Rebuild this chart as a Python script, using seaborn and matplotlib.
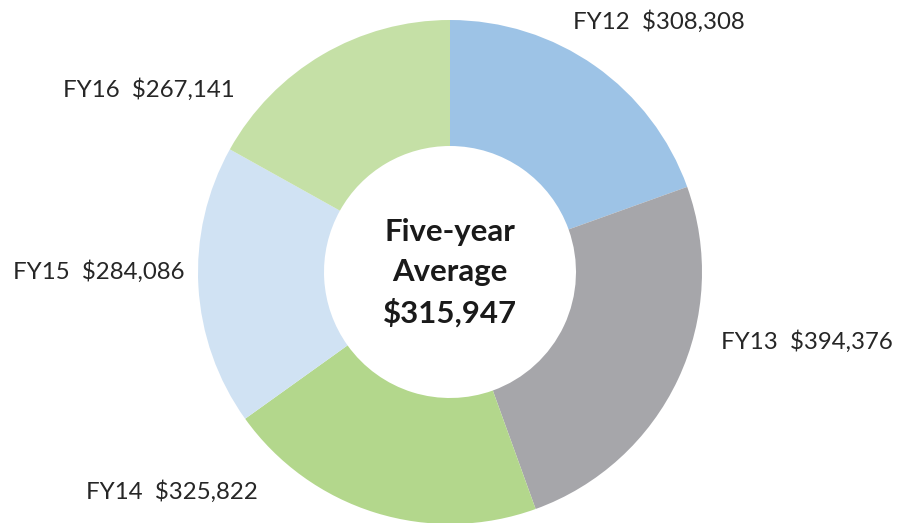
import matplotlib
matplotlib.use("Agg")
import matplotlib.pyplot as plt
import seaborn as sns

sns.set_style("white")
plt.rcParams['font.family'] = ['Lato', 'DejaVu Sans']

years = ["FY12", "FY13", "FY14", "FY15", "FY16"]
values = [308308, 394376, 325822, 284086, 267141]
colors = ["#9DC3E6", "#A6A6AA", "#B3D78C", "#D0E2F3", "#C5E0A6"]
center_lines = ["Five-year", "Average", "$315,947"]

W, H = 905, 523
fig = plt.figure(figsize=(W / 100, H / 100), dpi=100)
ax = fig.add_axes([0, 0, 1, 1])

cx, cy, R = 450, 272, 252

def to_data(px, py):
    return (px - cx) / R, (cy - py) / R

ax.pie(values, colors=colors, startangle=90, counterclock=False,
       radius=1.0, wedgeprops=dict(width=0.5, linewidth=0))

ax.set_xlim(-cx / R, (W - cx) / R)
ax.set_ylim((cy - H) / R, cy / R)
ax.set_aspect('auto')
ax.axis('off')

# label centers (pixel layout)
label_pos = [(659, 22), (807, 342), (172, 492), (99, 272), (149, 90)]
for yr, v, (px, py) in zip(years, values, label_pos):
    x, y = to_data(px, py)
    ax.text(x, y, f"{yr}  ${v:,}", ha='center', va='center',
            fontsize=17.3, color='#262626')

center_y = [232, 272, 313]
for line, py in zip(center_lines, center_y):
    x, y = to_data(cx, py)
    ax.text(x, y, line, ha='center', va='center', fontsize=22.4,
            fontweight='bold', color='#1a1a1a')

fig.savefig("out.png", dpi=100)
